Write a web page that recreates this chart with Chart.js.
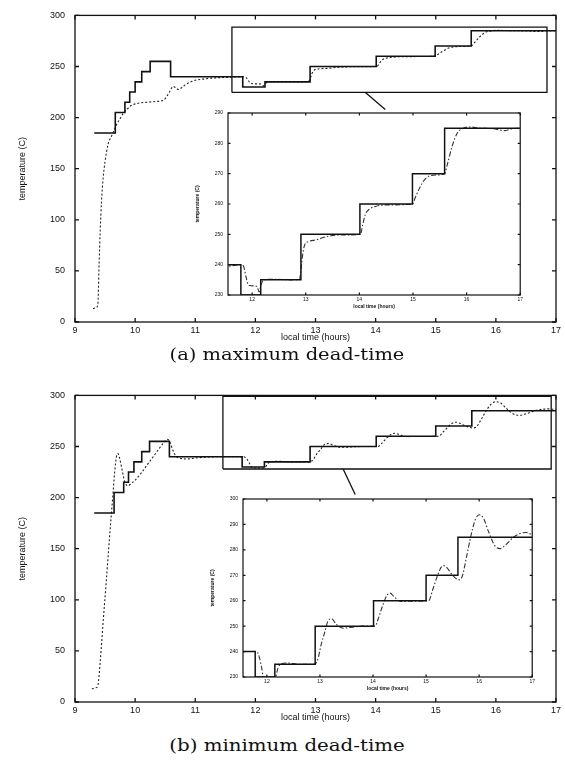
<!DOCTYPE html>
<html>
<head>
<meta charset="utf-8">
<script src="https://cdn.jsdelivr.net/npm/chart.js@4/dist/chart.umd.min.js"></script>
<style>
  html, body { margin: 0; padding: 0; background: #fff; }
  body { position: relative; width: 565px; height: 766px; overflow: hidden; }
  canvas { position: absolute; }
  .caption {
    position: absolute; left: 287px; white-space: nowrap;
    font-family: "DejaVu Serif", serif; font-size: 16px; color: #111;
    transform-origin: center center;
  }
</style>
</head>
<body>
<canvas id="mainA"></canvas>
<canvas id="insetA"></canvas>
<div class="caption" id="capA" style="top:354px">(a) maximum dead-time</div>
<canvas id="mainB"></canvas>
<canvas id="insetB"></canvas>
<div class="caption" id="capB" style="top:745px">(b) minimum dead-time</div>
<script>
// tick labels
const hourTicks = [9, 10, 11, 12, 13, 14, 15, 16, 17];
const tempTicks = [0, 50, 100, 150, 200, 250, 300];
const insetHourTicks = [12, 13, 14, 15, 16, 17];
const insetTempTicksA = [230, 240, 250, 260, 270, 280, 290];
const insetTempTicksB = [230, 240, 250, 260, 270, 280, 290, 300];

// (a) maximum dead-time: set point (steps) and measured temperature
const spTimeA = [9.32, 9.67, 9.83, 9.91, 10.0, 10.11, 10.25, 10.59, 11.79, 12.16, 12.91, 14.01, 14.99, 15.59, 17];
const spTempA = [185, 205, 215, 225, 235, 245, 255, 240, 230, 235, 250, 260, 270, 285, 285];
const tempTimeA = [9.30, 9.35, 9.38, 9.40, 9.42, 9.44, 9.47, 9.50, 9.55, 9.60, 9.64, 9.69, 9.75, 9.80, 9.87,
  9.94, 10.05, 10.19, 10.35, 10.47, 10.53, 10.58, 10.63, 10.67, 10.72, 10.78, 10.83, 10.97, 11.10, 11.25,
  11.58, 11.80, 11.84, 11.88, 11.93, 12.03, 12.09, 12.13, 12.17, 12.22, 12.40, 12.70, 12.88, 12.91, 12.94,
  12.98, 13.05, 13.20, 13.40, 13.70, 14.02, 14.06, 14.11, 14.18, 14.30, 14.55, 14.99, 15.04, 15.13, 15.23,
  15.38, 15.59, 15.64, 15.73, 15.83, 15.94, 16.05, 16.25, 16.50, 16.70, 16.85, 17.00];
const tempValA = [13, 14, 17, 55, 90, 117, 142, 157, 174, 181, 186, 193, 199, 204, 208.5,
  212, 214, 215, 215.8, 217, 221, 226, 230.5, 229.5, 227.5, 229.5, 232, 236, 237.5, 238.5,
  239.5, 240, 239.5, 236.5, 233.3, 233, 232.8, 231, 233.5, 235, 235.2, 235, 235.1, 238, 243,
  246.5, 247.6, 248.2, 249.3, 249.8, 250, 253, 256.5, 258.2, 259.2, 259.7, 260, 262, 265.5, 268.3,
  269.5, 270, 273, 279, 283.5, 285, 285.4, 285, 284.8, 284.2, 284.8, 285];

// (b) minimum dead-time
const spTimeB = [9.32, 9.65, 9.81, 9.89, 9.98, 10.11, 10.24, 10.57, 11.78, 12.15, 12.91, 14.01, 15.0, 15.6, 17];
const spTempB = [185, 205, 215, 225, 235, 245, 255, 240, 230, 235, 250, 260, 270, 285, 285];
const tempTimeB = [9.28, 9.35, 9.38, 9.42, 9.47, 9.52, 9.57, 9.62, 9.66, 9.69, 9.715, 9.74, 9.78, 9.83, 9.88,
  9.94, 10.0, 10.1, 10.2, 10.3, 10.4, 10.48, 10.54, 10.58, 10.63, 10.68, 10.75, 10.85, 11.0, 11.2,
  11.5, 11.81, 11.86, 11.90, 11.94, 12.05, 12.15, 12.21, 12.27, 12.37, 12.60, 12.90, 12.96, 13.02, 13.09,
  13.15, 13.22, 13.31, 13.44, 13.60, 13.80, 14.04, 14.10, 14.18, 14.26, 14.32, 14.40, 14.52, 14.70, 15.05,
  15.12, 15.20, 15.28, 15.33, 15.40, 15.50, 15.62, 15.68, 15.76, 15.85, 15.93, 16.00, 16.08, 16.18, 16.30,
  16.40, 16.50, 16.65, 16.80, 16.90, 17.00];
const tempValB = [13, 14, 16, 40, 80, 118, 158, 195, 225, 240, 243, 239, 228, 215, 211.5,
  214, 217, 224, 232, 240, 248, 254, 257, 254, 246, 240.5, 238.5, 237.8, 238.7, 239.6,
  240, 240, 237.6, 233.8, 229.5, 228.8, 229, 233.6, 235.2, 235.5, 235, 235, 237, 242.5, 247.6,
  252, 252.9, 250.7, 249.2, 249.6, 250, 250, 253, 258, 262, 263, 261.5, 259.7, 259.8, 260,
  264, 269, 273, 273.8, 272.8, 270, 268.2, 269.5, 277, 286, 292, 293.8, 292.5, 287, 281.5,
  280.5, 282, 285, 286.6, 286.8, 285.8];

// zoom boxes [xMin, xMax, yMin, yMax] and connector lines, in main chart units
const zoomBoxA = [11.61, 16.85, 224.6, 288.5];
const zoomBoxB = [11.46, 16.92, 228, 299];
const linkA = [[13.83, 224.6], [14.16, 208]];
const linkB = [[13.46, 228], [13.66, 203]];

// where each inset sits, in main chart units [xMin, xMax, yMin, yMax]
const insetPlaceA = [11.55, 16.42, 26, 208];
const insetPlaceB = [11.80, 16.62, 25, 203];

const pts = (xs, ys) => xs.map((x, i) => ({x: x, y: ys[i]}));
const boxPts = b => [{x: b[0], y: b[2]}, {x: b[1], y: b[2]}, {x: b[1], y: b[3]}, {x: b[0], y: b[3]}, {x: b[0], y: b[2]}];

// gnuplot-like frame with inward ticks on all four sides
const innerTicks = {
  id: 'innerTicks',
  afterDraw(chart, args, opts) {
    const {ctx, chartArea: a} = chart;
    const x = chart.scales.x, y = chart.scales.y;
    const len = opts.len;
    ctx.save();
    ctx.strokeStyle = '#111';
    ctx.lineWidth = opts.width;
    ctx.strokeRect(a.left, a.top, a.right - a.left, a.bottom - a.top);
    ctx.beginPath();
    x.ticks.forEach(t => {
      const px = x.getPixelForValue(t.value);
      ctx.moveTo(px, a.bottom); ctx.lineTo(px, a.bottom - len);
      ctx.moveTo(px, a.top); ctx.lineTo(px, a.top + len);
    });
    y.ticks.forEach(t => {
      const py = y.getPixelForValue(t.value);
      ctx.moveTo(a.left, py); ctx.lineTo(a.left + len, py);
      ctx.moveTo(a.right, py); ctx.lineTo(a.right - len, py);
    });
    ctx.stroke();
    ctx.restore();
  }
};

Chart.defaults.font.family = '"Liberation Sans", Arial, sans-serif';
Chart.defaults.color = '#111';

function setTicks(list) {
  return scale => { scale.ticks = list.map(v => ({value: v})); };
}

function makeMain(id, top, sp, temp, box, link) {
  const cv = document.getElementById(id);
  cv.width = 565; cv.height = 350;
  cv.style.left = '0px'; cv.style.top = top + 'px';
  return new Chart(cv, {
    type: 'line',
    data: {
      datasets: [
        { data: sp, stepped: true, borderColor: '#111', borderWidth: 1.6, pointRadius: 0 },
        { data: temp, borderColor: '#222', borderWidth: 1.1, borderDash: [2, 2],
          cubicInterpolationMode: 'monotone', pointRadius: 0 },
        { data: boxPts(box), borderColor: '#111', borderWidth: 1.3, pointRadius: 0 },
        { data: link.map(p => ({x: p[0], y: p[1]})), borderColor: '#111', borderWidth: 1.3, pointRadius: 0 }
      ]
    },
    options: {
      responsive: false, animation: false, devicePixelRatio: 1,
      layout: { padding: { left: 0, top: 12, right: 9, bottom: 0 } },
      plugins: { legend: { display: false }, tooltip: { enabled: false },
                 innerTicks: { len: 4, width: 1.3 } },
      scales: {
        x: {
          type: 'linear', min: 9, max: 17,
          afterBuildTicks: setTicks(hourTicks),
          afterFit: s => { s.height = 28; },
          grid: { display: false, drawTicks: false }, border: { display: false },
          ticks: { padding: 3, font: { size: 9 } },
          title: { display: true, text: 'local time (hours)', font: { size: 9 },
                   padding: { top: 0, bottom: 7 } }
        },
        y: {
          min: 0, max: 300,
          afterBuildTicks: setTicks(tempTicks),
          afterFit: s => { s.width = 75; },
          grid: { display: false, drawTicks: false }, border: { display: false },
          ticks: { padding: 10, font: { size: 9 } },
          title: { display: true, text: 'temperature (C)', font: { size: 9 },
                   padding: { top: 17, bottom: 0 } }
        }
      }
    },
    plugins: [innerTicks]
  });
}

function makeInset(id, main, top, place, sp, temp, yTicks) {
  const L = 36, T = 4, R = 4, B = 16;
  const px0 = main.scales.x.getPixelForValue(place[0]);
  const px1 = main.scales.x.getPixelForValue(place[1]);
  const py1 = main.scales.y.getPixelForValue(place[3]);
  const py0 = main.scales.y.getPixelForValue(place[2]);
  const cv = document.getElementById(id);
  cv.width = Math.round(px1 - px0) + L + R;
  cv.height = Math.round(py0 - py1) + T + B;
  cv.style.left = Math.round(px0 - L) + 'px';
  cv.style.top = Math.round(top + py1 - T) + 'px';
  return new Chart(cv, {
    type: 'line',
    data: {
      datasets: [
        { data: sp, stepped: true, borderColor: '#111', borderWidth: 1.5, pointRadius: 0 },
        { data: temp, borderColor: '#333', borderWidth: 1.1, borderDash: [5, 2, 1.5, 2],
          cubicInterpolationMode: 'monotone', pointRadius: 0 }
      ]
    },
    options: {
      responsive: false, animation: false, devicePixelRatio: 1,
      layout: { padding: { left: 0, top: T, right: R, bottom: 0 } },
      plugins: { legend: { display: false }, tooltip: { enabled: false },
                 innerTicks: { len: 2.5, width: 1.2 } },
      scales: {
        x: {
          type: 'linear', min: 11.55, max: 17,
          afterBuildTicks: setTicks(insetHourTicks),
          afterFit: s => { s.height = B; },
          grid: { display: false, drawTicks: false }, border: { display: false },
          ticks: { padding: 2, font: { size: 5 } },
          title: { display: true, text: 'local time (hours)', font: { size: 5, weight: 'bold' },
                   padding: { top: 0, bottom: 1.5 } }
        },
        y: {
          min: yTicks[0], max: yTicks[yTicks.length - 1],
          afterBuildTicks: setTicks(yTicks),
          afterFit: s => { s.width = L; },
          grid: { display: false, drawTicks: false }, border: { display: false },
          ticks: { padding: 5, font: { size: 5 } },
          title: { display: true, text: 'temperature (C)', font: { size: 5, weight: 'bold' },
                   padding: { top: 3, bottom: 0 } }
        }
      }
    },
    plugins: [innerTicks]
  });
}

const mainA = makeMain('mainA', 0, pts(spTimeA, spTempA), pts(tempTimeA, tempValA), zoomBoxA, linkA);
makeInset('insetA', mainA, 0, insetPlaceA, pts(spTimeA, spTempA), pts(tempTimeA, tempValA), insetTempTicksA);
const mainB = makeMain('mainB', 380, pts(spTimeB, spTempB), pts(tempTimeB, tempValB), zoomBoxB, linkB);
makeInset('insetB', mainB, 380, insetPlaceB, pts(spTimeB, spTempB), pts(tempTimeB, tempValB), insetTempTicksB);

// captions: centre and stretch to the printed width
['capA', 'capB'].forEach(id => {
  const el = document.getElementById(id);
  const k = 235 / el.offsetWidth;
  el.style.transform = 'translate(-50%, -50%) scaleX(' + k.toFixed(3) + ')';
});
</script>
</body>
</html>
